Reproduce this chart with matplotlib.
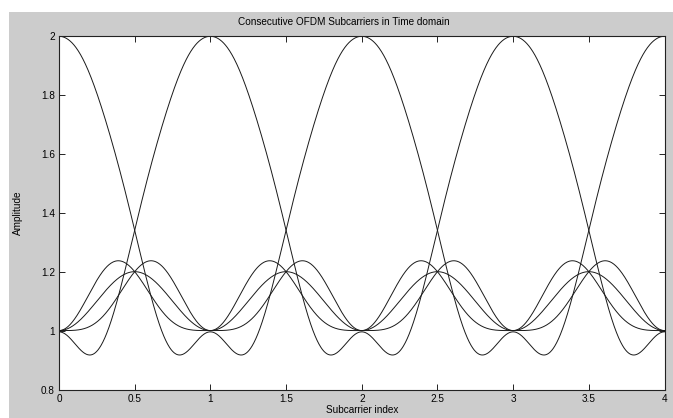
import numpy as np
import matplotlib.pyplot as plt
from matplotlib.patches import Rectangle

plt.rcParams['font.family'] = ['Liberation Sans', 'DejaVu Sans']

# axis ticks as in the picture
x_ticks = [0, 0.5, 1, 1.5, 2, 2.5, 3, 3.5, 4]
x_tick_labels = ['0', '0.5', '1', '1.5', '2', '2.5', '3', '3.5', '4']
y_ticks = [0.8, 1.0, 1.2, 1.4, 1.6, 1.8, 2.0]
y_tick_labels = ['0.8', '1', '1.2', '1.4', '1.6', '1.8', '2']

# big lobes: one centred on even indices, one on odd indices
big_centres = [0, 1]
# half-period profile of a big lobe (amplitude - 1)
big_knot_x = [0.00, 0.05, 0.10, 0.15, 0.20, 0.25, 0.30, 0.35, 0.40, 0.45,
              0.50, 0.55, 0.60, 0.65, 0.70, 0.75, 0.80, 0.85, 0.90, 0.95, 1.00]
big_knot_y = [1.000, 0.992, 0.968, 0.928, 0.874, 0.807, 0.728, 0.640, 0.544, 0.443,
              0.345, 0.237, 0.130, 0.040, -0.035, -0.062, -0.076, -0.077, -0.047, -0.014, 0.000]

# small curves: weight of (1 - cos 2*pi*x) and of (cos pi*x - cos 3*pi*x)
small_sym = [0.10, 0.10, 0.10]
small_skew = [0.05, 0.0, -0.05]

N_HARM = 8


def main():
    kx = np.array(big_knot_x)
    basis = np.cos(np.pi * np.outer(kx, np.arange(N_HARM)))
    coef, *_ = np.linalg.lstsq(basis, np.array(big_knot_y), rcond=None)

    x = np.linspace(0, 4, 1601)

    fig = plt.figure(figsize=(6.73, 4.18), dpi=100, facecolor='white')
    fig.patches.append(Rectangle((9 / 673, 0), 1 - 9 / 673, 406 / 418,
                                 transform=fig.transFigure, facecolor='#cccccc',
                                 edgecolor='none', zorder=-1))
    ax = fig.add_axes([59 / 673, 28.5 / 418, 605.5 / 673, 353.5 / 418])

    for c in big_centres:
        y = 1 + np.cos(np.pi * np.outer(x - c, np.arange(N_HARM))) @ coef
        ax.plot(x, y, color='#1a1a1a', lw=0.7)

    for s, k in zip(small_sym, small_skew):
        y = 1 + s * (1 - np.cos(2 * np.pi * x)) + k * (np.cos(np.pi * x) - np.cos(3 * np.pi * x))
        ax.plot(x, y, color='#1a1a1a', lw=0.7)

    ax.set_xlim(0, 4)
    ax.set_ylim(0.8, 2)
    ax.set_xticks(x_ticks)
    ax.set_xticklabels(x_tick_labels)
    ax.set_yticks(y_ticks)
    ax.set_yticklabels(y_tick_labels)
    ax.tick_params(direction='in', top=True, right=True, length=4, width=0.6,
                   labelsize=7.2, pad=3)
    for sp in ax.spines.values():
        sp.set_linewidth(0.8)
        sp.set_color('#222222')

    ax.set_title('Consecutive OFDM Subcarriers in Time domain', fontsize=7.2, pad=8, x=0.47)
    ax.set_xlabel('Subcarrier index', fontsize=7.2, labelpad=1)
    ax.set_ylabel('Amplitude', fontsize=7.2, labelpad=13)

    fig.savefig('out.png', dpi=100)


if __name__ == '__main__':
    main()
